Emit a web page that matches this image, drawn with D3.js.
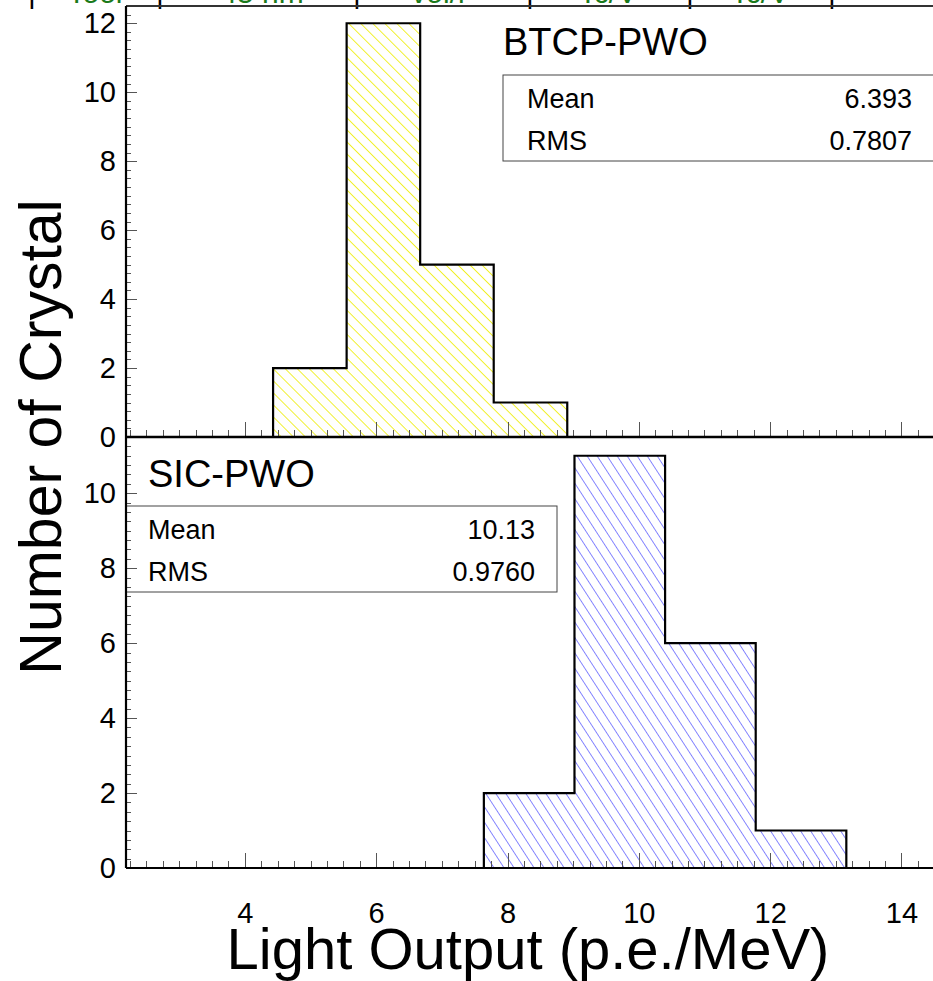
<!DOCTYPE html>
<meta charset="utf-8">
<style>
body { margin: 0; background: #fff; }
text { font-family: "Liberation Sans", Arial, sans-serif; }
.tick line { stroke: #555; shape-rendering: crispEdges; }
</style>
<svg width="933" height="981"></svg>
<script src="https://d3js.org/d3.v7.min.js"></script>
<script>
// histogram bins: bin edges (p.e./MeV) and counts
var btcpEdges = [4.43, 5.55, 6.67, 7.79, 8.91],
    btcpCounts = [2, 12, 5, 1];
var sicEdges = [7.64, 9.02, 10.40, 11.78, 13.16],
    sicCounts = [2, 11, 6, 1];

var statLabels = ["Mean", "RMS"],
    btcpStats = ["6.393", "0.7807"],
    sicStats = ["10.13", "0.9760"];

var xTicks = [4, 6, 8, 10, 12, 14],
    yTicksTop = [0, 2, 4, 6, 8, 10, 12],
    yTicksBottom = [0, 2, 4, 6, 8, 10];

// header row of the page above, mostly cut off
var headerCells = ["Tool", "45 nm", "vol/l", "Tc/V", "Tc/V"];

var svg = d3.select("svg");

var left = 126, plotTop = 6, mid = 437, bottom = 868, right = 940;

var x = d3.scaleLinear().domain([2.19, 14.48]).range([left, 933]);
var yTop = d3.scaleLinear().domain([0, 12.5]).range([mid, plotTop]);
var yBot = d3.scaleLinear().domain([0, 11.5]).range([bottom, mid]);

// hatch patterns (ROOT style 3005-ish)
var defs = svg.append("defs");
function hatch(id, color, step, angle, w) {
  var p = defs.append("pattern")
      .attr("id", id)
      .attr("patternUnits", "userSpaceOnUse")
      .attr("width", step).attr("height", step)
      .attr("patternTransform", "rotate(" + angle + ")");
  p.append("line")
      .attr("x1", 0).attr("y1", 0).attr("x2", 0).attr("y2", step)
      .attr("stroke", color).attr("stroke-width", w);
}
hatch("hatchY", "#eded00", 8.5, -45, 1.6);
hatch("hatchB", "#3a3aff", 8.4, -33, 1.2);

// header fragments
var headerX = [95, 262, 438, 608, 760];
svg.append("g").selectAll("text")
    .data(headerCells)
    .enter().append("text")
    .attr("x", function(d, i) { return headerX[i]; })
    .attr("y", 3)
    .attr("text-anchor", "middle")
    .attr("font-size", 30)
    .attr("fill", "#1a7a1a")
    .text(function(d) { return d; });
var sepX = [32, 160, 357, 530, 690, 832];
svg.append("g").selectAll("text")
    .data(sepX)
    .enter().append("text")
    .attr("x", function(d) { return d; })
    .attr("y", 3)
    .attr("text-anchor", "middle")
    .attr("font-size", 30)
    .text("|");

// histogram outline + hatch
function histo(y, edges, counts, fillId) {
  var pts = [[edges[0], 0]];
  counts.forEach(function(c, i) {
    pts.push([edges[i], c]);
    pts.push([edges[i + 1], c]);
  });
  pts.push([edges[edges.length - 1], 0]);
  var line = d3.line()
      .x(function(d) { return x(d[0]); })
      .y(function(d) { return y(d[1]); });
  svg.append("path")
      .attr("d", line(pts) + "Z")
      .attr("fill", "url(#" + fillId + ")")
      .attr("stroke", "#000")
      .attr("stroke-width", 2.2)
      .attr("stroke-linejoin", "miter");
}
histo(yTop, btcpEdges, btcpCounts, "hatchY");
histo(yBot, sicEdges, sicCounts, "hatchB");

// stats boxes
function stats(bx, by, bw, title, titleX, titleY, values, valX) {
  svg.append("rect")
      .attr("x", bx).attr("y", by).attr("width", bw).attr("height", 86)
      .attr("fill", "#fff").attr("stroke", "#444").attr("stroke-width", 1);
  svg.append("text")
      .attr("x", titleX).attr("y", titleY)
      .attr("font-size", 38)
      .text(title);
  var g = svg.append("g");
  g.selectAll(".lab").data(statLabels).enter().append("text")
      .attr("x", bx + 22 + (bx < 200 ? 0 : 2))
      .attr("y", function(d, i) { return by + 33 + i * 42; })
      .attr("font-size", 27)
      .text(function(d) { return d; });
  g.selectAll(".val").data(values).enter().append("text")
      .attr("x", valX)
      .attr("y", function(d, i) { return by + 33 + i * 42; })
      .attr("text-anchor", "end")
      .attr("font-size", 27)
      .text(function(d) { return d; });
}
stats(503, 75, 460, "BTCP-PWO", 503, 55, btcpStats, 912);
stats(126, 506, 431, "SIC-PWO", 148, 487, sicStats, 535);

// axes
function yAxis(y, ticks, maxV) {
  svg.append("g")
      .attr("transform", "translate(" + left + ",0)")
      .call(d3.axisLeft(y).tickValues(d3.range(0, maxV + 0.01, 0.25))
        .tickSize(-5).tickSizeOuter(0).tickFormat(""))
      .call(function(g) { g.select(".domain").remove(); });
  svg.append("g")
      .attr("transform", "translate(" + left + ",0)")
      .call(d3.axisLeft(y).tickValues(ticks).tickSize(-11).tickSizeOuter(0).tickPadding(10))
      .call(function(g) {
        g.select(".domain").remove();
        g.selectAll("text").attr("font-size", 29).attr("font-family", "Liberation Sans, Arial, sans-serif").attr("fill", "#000");
      });
}
yAxis(yTop, yTicksTop, 12.5);
yAxis(yBot, yTicksBottom, 11.5);

function xAxis(yPos, labels) {
  svg.append("g")
      .attr("transform", "translate(0," + yPos + ")")
      .call(d3.axisBottom(x).tickValues(d3.range(2.25, 14.49, 0.25))
        .tickSize(-7).tickSizeOuter(0).tickFormat(""))
      .call(function(g) { g.select(".domain").remove(); });
  svg.append("g")
      .attr("transform", "translate(0," + yPos + ")")
      .call(d3.axisBottom(x).tickValues(xTicks).tickSize(-15).tickSizeOuter(0).tickPadding(34))
      .call(function(g) {
        g.select(".domain").remove();
        if (!labels) g.selectAll("text").remove();
        g.selectAll("text").attr("font-size", 29).attr("font-family", "Liberation Sans, Arial, sans-serif").attr("fill", "#000");
      });
}
xAxis(mid, false);
xAxis(bottom, true);

// frame lines
svg.append("line").attr("x1", left).attr("x2", right).attr("y1", plotTop).attr("y2", plotTop)
    .attr("stroke", "#333").attr("stroke-width", 2);
svg.append("line").attr("x1", left).attr("x2", right).attr("y1", mid).attr("y2", mid)
    .attr("stroke", "#000").attr("stroke-width", 2.5);
svg.append("line").attr("x1", left).attr("x2", right).attr("y1", bottom).attr("y2", bottom)
    .attr("stroke", "#000").attr("stroke-width", 2.2);
svg.append("line").attr("x1", left).attr("x2", left).attr("y1", plotTop).attr("y2", bottom)
    .attr("stroke", "#000").attr("stroke-width", 2.2);

// axis titles
svg.append("text")
    .attr("transform", "translate(61,437) rotate(-90)")
    .attr("text-anchor", "middle")
    .attr("font-size", 59)
    .text("Number of Crystal");
svg.append("text")
    .attr("x", 528).attr("y", 969)
    .attr("text-anchor", "middle")
    .attr("font-size", 58)
    .text("Light Output (p.e./MeV)");
</script>
